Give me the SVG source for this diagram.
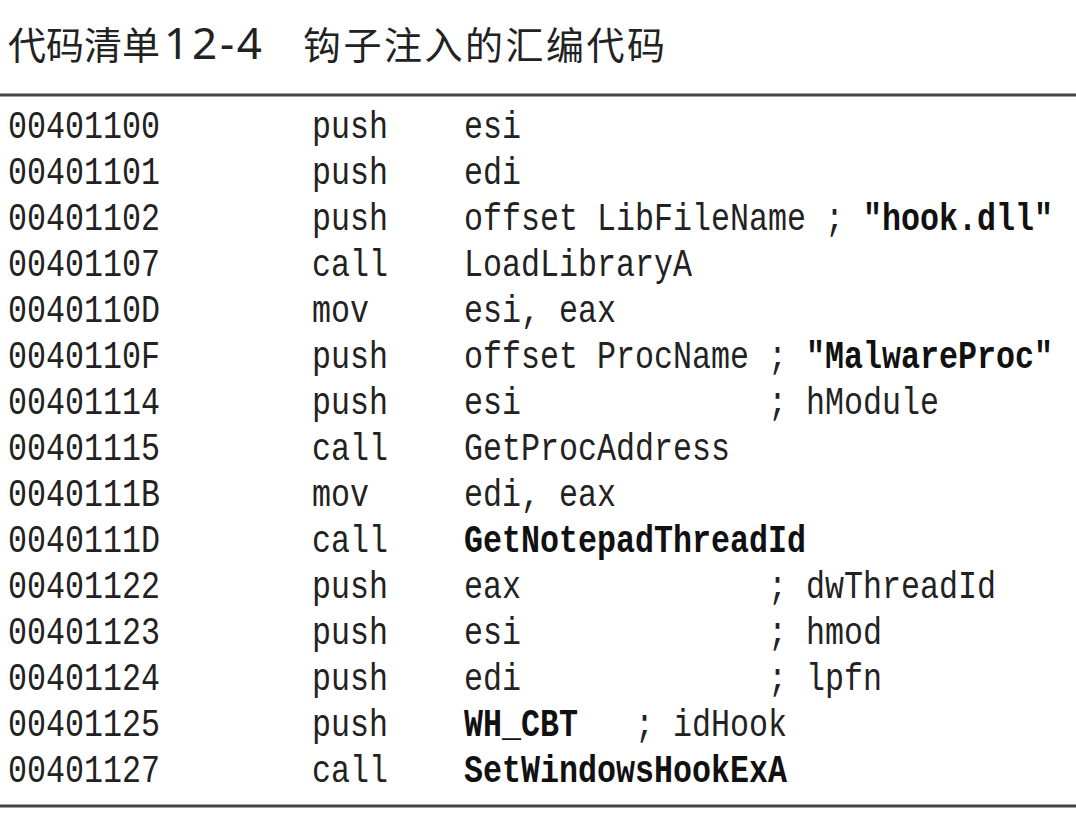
<svg xmlns="http://www.w3.org/2000/svg" width="1076" height="820" viewBox="0 0 1076 820">
<style>
.t{font-family:"Noto Sans CJK SC","Noto Sans",sans-serif;font-size:38px;fill:#222}
.n{font-family:"Noto Sans","Noto Sans CJK SC",sans-serif;font-size:44px;fill:#222}
.c{font-family:"Liberation Mono","DejaVu Sans Mono",monospace;font-size:38px;fill:#222;white-space:pre}
.b{font-weight:bold;fill:#111}
.rule{stroke:#444;stroke-width:3}
</style>
<rect width="1076" height="820" fill="#fff"/>
<g id="title">
<text class="t" x="8" y="59" textLength="152">代码清单</text>
<text class="n" x="164" y="59" textLength="98">12-4</text>
<text class="t" x="303" y="59" textLength="362">钩子注入的汇编代码</text>
</g>
<g id="rules">
<line class="rule" x1="0" y1="95" x2="1076" y2="95"/>
<line class="rule" x1="0" y1="806" x2="1076" y2="806"/>
</g>
<g transform="scale(0.833333,1)">
<g id="row1"><text class="c" x="9.6" y="138">00401100</text><text class="c" x="374.4" y="138">push</text><text class="c" x="556.8" y="138">esi</text></g>
<g id="row2"><text class="c" x="9.6" y="184">00401101</text><text class="c" x="374.4" y="184">push</text><text class="c" x="556.8" y="184">edi</text></g>
<g id="row3"><text class="c" x="9.6" y="230">00401102</text><text class="c" x="374.4" y="230">push</text><text class="c" x="556.8" y="230" xml:space="preserve">offset LibFileName ; <tspan class="b">"hook.dll"</tspan></text></g>
<g id="row4"><text class="c" x="9.6" y="276">00401107</text><text class="c" x="374.4" y="276">call</text><text class="c" x="556.8" y="276">LoadLibraryA</text></g>
<g id="row5"><text class="c" x="9.6" y="322">0040110D</text><text class="c" x="374.4" y="322">mov</text><text class="c" x="556.8" y="322">esi, eax</text></g>
<g id="row6"><text class="c" x="9.6" y="368">0040110F</text><text class="c" x="374.4" y="368">push</text><text class="c" x="556.8" y="368" xml:space="preserve">offset ProcName ; <tspan class="b">"MalwareProc"</tspan></text></g>
<g id="row7"><text class="c" x="9.6" y="414">00401114</text><text class="c" x="374.4" y="414">push</text><text class="c" x="556.8" y="414">esi</text><text class="c" x="921.6" y="414">; hModule</text></g>
<g id="row8"><text class="c" x="9.6" y="460">00401115</text><text class="c" x="374.4" y="460">call</text><text class="c" x="556.8" y="460">GetProcAddress</text></g>
<g id="row9"><text class="c" x="9.6" y="506">0040111B</text><text class="c" x="374.4" y="506">mov</text><text class="c" x="556.8" y="506">edi, eax</text></g>
<g id="row10"><text class="c" x="9.6" y="552">0040111D</text><text class="c" x="374.4" y="552">call</text><text class="c b" x="556.8" y="552">GetNotepadThreadId</text></g>
<g id="row11"><text class="c" x="9.6" y="598">00401122</text><text class="c" x="374.4" y="598">push</text><text class="c" x="556.8" y="598">eax</text><text class="c" x="921.6" y="598">; dwThreadId</text></g>
<g id="row12"><text class="c" x="9.6" y="644">00401123</text><text class="c" x="374.4" y="644">push</text><text class="c" x="556.8" y="644">esi</text><text class="c" x="921.6" y="644">; hmod</text></g>
<g id="row13"><text class="c" x="9.6" y="690">00401124</text><text class="c" x="374.4" y="690">push</text><text class="c" x="556.8" y="690">edi</text><text class="c" x="921.6" y="690">; lpfn</text></g>
<g id="row14"><text class="c" x="9.6" y="736">00401125</text><text class="c" x="374.4" y="736">push</text><text class="c b" x="556.8" y="736">WH_CBT</text><text class="c" x="762" y="736">; idHook</text></g>
<g id="row15"><text class="c" x="9.6" y="782">00401127</text><text class="c" x="374.4" y="782">call</text><text class="c b" x="556.8" y="782">SetWindowsHookExA</text></g>
</g>
</svg>
